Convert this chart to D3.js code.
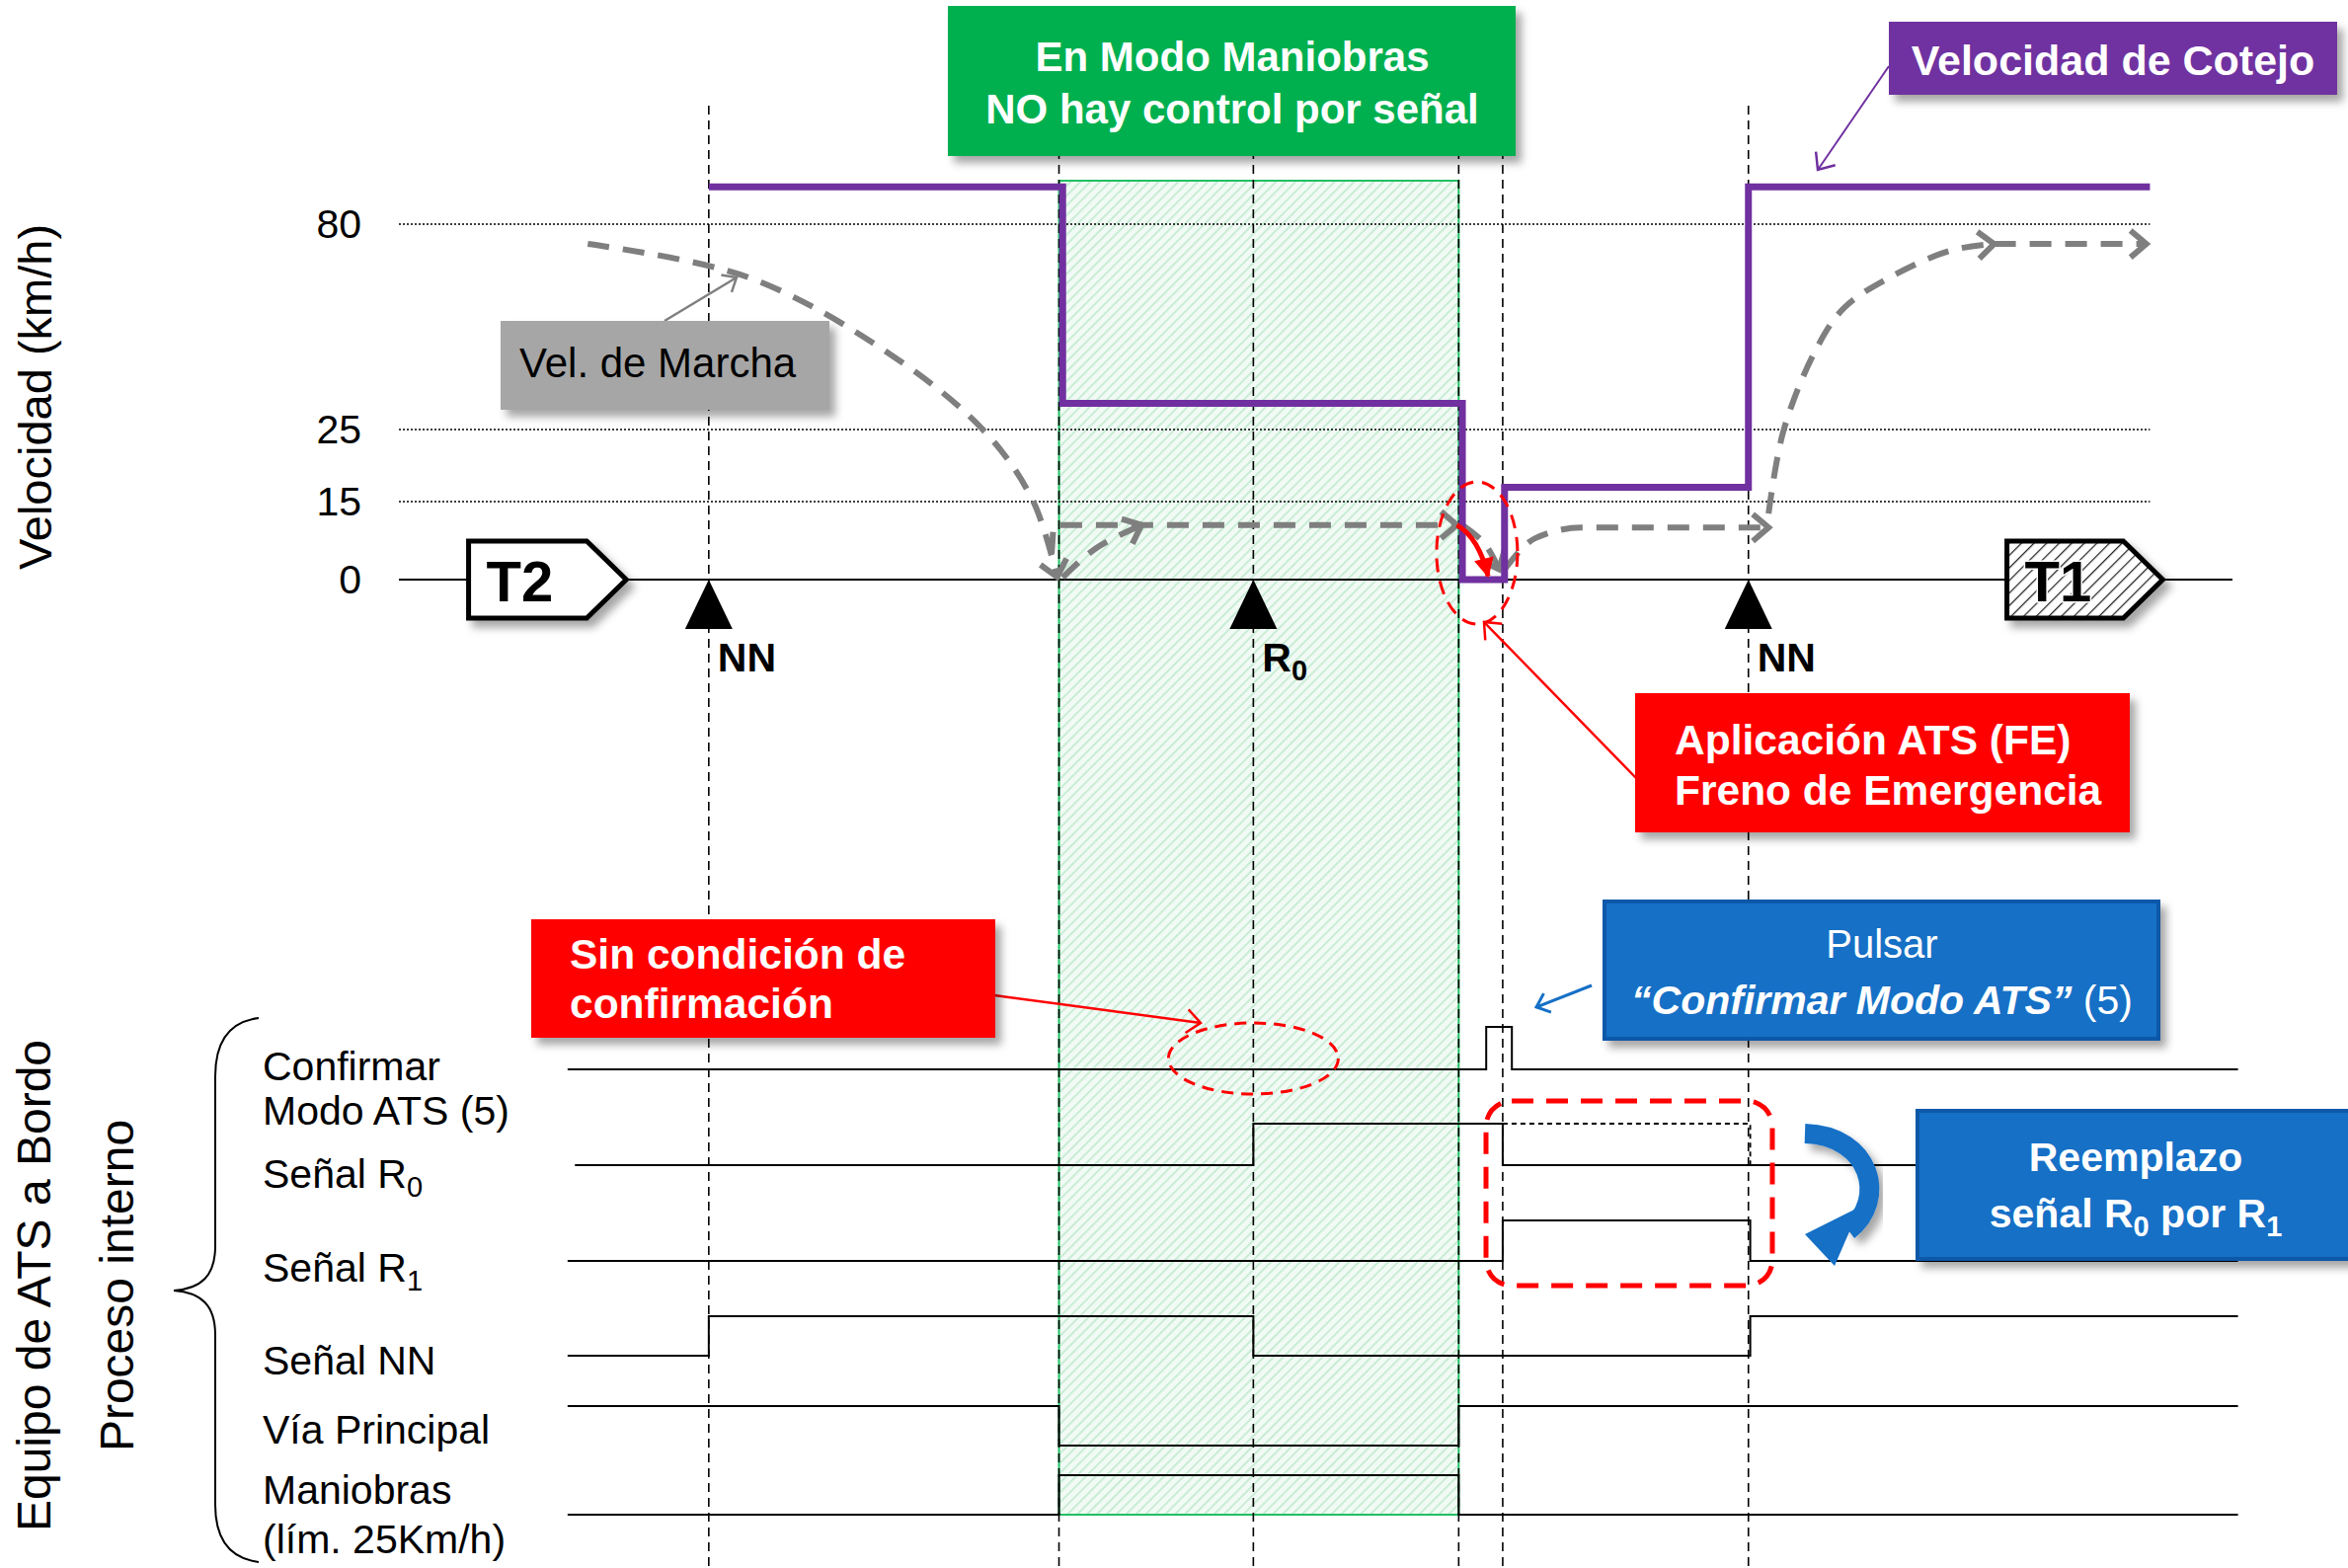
<!DOCTYPE html>
<html>
<head>
<meta charset="utf-8">
<script src="https://cdn.jsdelivr.net/npm/d3@7"></script>
<style>
  body { margin: 0; background: #fff; }
  svg { display: block; }
  text { font-family: "Liberation Sans", Arial, sans-serif; }
</style>
</head>
<body>
<div id="chart"></div>
<script>
// ---- datos (posición en la vía en unidades 0..1000, velocidad en km/h) ----
const speedTicks = [0, 15, 25, 80];
const trackMarkers = [
  { label: "NN", sub: "", pos: 169 },
  { label: "R", sub: "0", pos: 466 },
  { label: "NN", sub: "", pos: 736 }
];
const eventLines = [169, 360, 466, 578, 602, 736];
const maniobrasZone = [360, 578];
// Velocidad de Cotejo (escalones)
const cotejoSpeed = [[169, 90], [362, 32], [580, 0], [603, 17], [736, 90], [955, 90]];
// Velocidad de Marcha (trazos grises)
const marchaBrake = [[103, 74.7], [191, 65.7], [272, 43.8], [321, 24.3], [346, 15], [359, 0.5]];
const marchaStart = [[362, 0.4], [380, 6], [405, 10.5]];
const marchaShunt = [[356, 5], [357, 10.5], [577, 10.5]];
const marchaStop = [[580, 10.5], [592, 7], [600, 2]];
const marchaRestart = [[603, 2], [620, 8], [645, 10], [747, 10]];
const marchaAccel = [[747, 12.7], [755, 24.7], [772, 45.6], [788, 57.5], [813, 65.7], [846, 72.9], [870, 74.7]];
const marchaCruise = [[870, 74.7], [953, 74.7]];
// señales del proceso interno (0 = bajo, 1 = alto)
const signalLabels = [["Confirmar", "Modo ATS (5)"], ["Señal R|0"], ["Señal R|1"], ["Señal NN"], ["Vía Principal"], ["Maniobras", "(lím. 25Km/h)"]];
const confirmarSteps = [[92, 0], [593, 1], [607, 0], [1003, 0]];
const senalR0Steps = [[96, 0], [466, 1], [602, 0], [829, 0]];
const senalR0Ghost = [[602, 1], [737, 1], [737, 0]];
const senalR1Steps = [[92, 0], [602, 1], [737, 0], [1003, 0]];
const senalNNSteps = [[92, 0], [169, 1], [466, 0], [737, 1], [1003, 1]];
const viaPrincipalSteps = [[92, 1], [360, 0], [578, 1], [1003, 1]];
const maniobrasSteps = [[92, 0], [360, 1], [578, 0], [1003, 0]];
const signalSteps = [confirmarSteps, senalR0Steps, senalR1Steps, senalNNSteps, viaPrincipalSteps, maniobrasSteps];

const W = 2378, H = 1588;
const CAL = 'Lato, "Open Sans", sans-serif';
const PURPLE = "#7030a0", GREEN = "#00b050", RED = "#ff0000", BLUE = "#1570c6", GRAY = "#7f7f7f";

const svg = d3.select("#chart").append("svg").attr("width", W).attr("height", H);
const defs = svg.append("defs");

// sombra
const sh = defs.append("filter").attr("id", "shadow").attr("x", "-10%").attr("y", "-20%").attr("width", "130%").attr("height", "150%");
sh.append("feDropShadow").attr("dx", 6).attr("dy", 7).attr("stdDeviation", 4).attr("flood-color", "#000").attr("flood-opacity", 0.35);

// rayado verde
const pat = defs.append("pattern").attr("id", "greenHatch").attr("patternUnits", "userSpaceOnUse")
  .attr("width", 7).attr("height", 7).attr("patternTransform", "rotate(45)");
pat.append("rect").attr("width", 7).attr("height", 7).attr("fill", "#f1faf4");
pat.append("line").attr("x1", 0).attr("y1", 0).attr("x2", 0).attr("y2", 7).attr("stroke", "#c4ebd2").attr("stroke-width", 3.5);

// rayado negro (T1)
const pat2 = defs.append("pattern").attr("id", "blackHatch").attr("patternUnits", "userSpaceOnUse")
  .attr("width", 9).attr("height", 9).attr("patternTransform", "rotate(45)");
pat2.append("rect").attr("width", 9).attr("height", 9).attr("fill", "#fff");
pat2.append("line").attr("x1", 0).attr("y1", 0).attr("x2", 0).attr("y2", 9).attr("stroke", "#222").attr("stroke-width", 2.5);

// marcadores de flecha
function openMarker(id, color, size, width) {
  defs.append("marker").attr("id", id).attr("markerUnits", "userSpaceOnUse")
    .attr("viewBox", "-30 -30 60 60").attr("markerWidth", 60).attr("markerHeight", 60)
    .attr("refX", 0).attr("refY", 0).attr("orient", "auto")
    .append("path").attr("d", `M${-size},${-size * 0.85}L0,0L${-size},${size * 0.85}`)
    .attr("fill", "none").attr("stroke", color).attr("stroke-width", width)
    .attr("stroke-linejoin", "miter");
}
openMarker("arrGray", GRAY, 16, 6);
openMarker("arrRed", RED, 14, 2.5);
openMarker("arrPurple", PURPLE, 14, 2.5);
openMarker("arrGrayThin", GRAY, 12, 2.5);
openMarker("arrBlue", BLUE, 12, 3);
defs.append("marker").attr("id", "arrRedFill").attr("markerUnits", "userSpaceOnUse")
  .attr("viewBox", "-30 -30 60 60").attr("markerWidth", 60).attr("markerHeight", 60)
  .attr("orient", "auto")
  .append("path").attr("d", "M-18,-10L2,0L-18,10Z").attr("fill", RED);

// escalas
const x = d3.scaleLinear().domain([0, 1000]).range([404, 2261]);
const y = d3.scaleLinear().domain(speedTicks).range([587, 508, 435, 227]);
const rowLevels = [[1083, 1040], [1180, 1138], [1277, 1236], [1373, 1333], [1464, 1424], [1534, 1494]];

// zona de maniobras sombreada
svg.append("rect")
  .attr("x", x(maniobrasZone[0])).attr("y", 183)
  .attr("width", x(maniobrasZone[1]) - x(maniobrasZone[0])).attr("height", 1534 - 183)
  .attr("fill", "url(#greenHatch)").attr("stroke", "#22c064").attr("stroke-width", 2);

// rejilla punteada
svg.append("g").selectAll("line").data(speedTicks.filter(d => d > 0)).join("line")
  .attr("x1", x(0)).attr("x2", x(955))
  .attr("y1", d => y(d)).attr("y2", d => y(d))
  .attr("stroke", "#000").attr("stroke-width", 1.6).attr("stroke-dasharray", "2,2");

// eje 0
svg.append("line").attr("x1", x(0)).attr("x2", x(1000)).attr("y1", y(0)).attr("y2", y(0))
  .attr("stroke", "#000").attr("stroke-width", 2);

// verticales discontinuas
svg.append("g").selectAll("line").data(eventLines).join("line")
  .attr("x1", d => x(d)).attr("x2", d => x(d)).attr("y1", 107).attr("y2", H)
  .attr("stroke", "#000").attr("stroke-width", 1.6).attr("stroke-dasharray", "9,6");

// ticks del eje de velocidad
svg.append("g").selectAll("text").data(speedTicks).join("text")
  .attr("x", 366).attr("y", d => y(d) + 14).attr("text-anchor", "end")
  .attr("font-size", 41).attr("fill", "#000").text(d => d);

svg.append("text").attr("transform", "translate(40,402) rotate(-90)").attr("text-anchor", "middle")
  .attr("font-size", 47).attr("dominant-baseline", "middle").text("Velocidad (km/h)");

// tableros T2 / T1
function board(x0, x1, label, fill) {
  const g = svg.append("g").attr("filter", "url(#shadow)");
  const yc = y(0), hh = 39;
  g.append("path")
    .attr("d", `M${x0},${yc - hh}L${x1 - 40},${yc - hh}L${x1},${yc}L${x1 - 40},${yc + hh}L${x0},${yc + hh}Z`)
    .attr("fill", fill).attr("stroke", "#000").attr("stroke-width", 5).attr("stroke-linejoin", "miter");
  svg.append("text").attr("x", x0 + 18).attr("y", yc + 22).attr("font-size", 58).attr("font-weight", "bold")
    .attr("fill", "#000").attr("stroke", "#fff").attr("stroke-width", 3).attr("paint-order", "stroke").text(label);
}
board(x(38), x(124), "T2", "#fff");
board(x(877), x(962), "T1", "url(#blackHatch)");

// triángulos de señal
const mk = svg.append("g").selectAll("g").data(trackMarkers).join("g")
  .attr("transform", d => `translate(${x(d.pos)},${y(0)})`);
mk.append("path").attr("d", "M0,0L24,50L-24,50Z").attr("fill", "#000");
const mkText = mk.append("text").attr("x", 9).attr("y", 93).attr("font-size", 41).attr("font-weight", "bold");
mkText.append("tspan").text(d => d.label);
mkText.append("tspan").attr("dy", 9).attr("font-size", 29).text(d => d.sub);

// Velocidad de Marcha (gris discontinua)
const smooth = d3.line().x(d => x(d[0])).y(d => y(d[1])).curve(d3.curveMonotoneX);
const crv = d3.line().x(d => x(d[0])).y(d => y(d[1])).curve(d3.curveCatmullRom);
const straight = d3.line().x(d => x(d[0])).y(d => y(d[1]));
const grayPaths = [
  [crv(marchaBrake)], [crv(marchaStart)], [straight(marchaShunt)], [crv(marchaStop)],
  [smooth(marchaRestart)], [crv(marchaAccel)], [straight(marchaCruise)]
];
svg.append("g").selectAll("path").data(grayPaths).join("path")
  .attr("d", d => d[0]).attr("fill", "none").attr("stroke", GRAY).attr("stroke-width", 6)
  .attr("stroke-dasharray", "22,14").attr("marker-end", "url(#arrGray)");

// Velocidad de Cotejo (morado)
svg.append("path")
  .attr("d", d3.line().x(d => x(d[0])).y(d => y(d[1])).curve(d3.curveStepAfter)(cotejoSpeed))
  .attr("fill", "none").attr("stroke", PURPLE).attr("stroke-width", 7).attr("stroke-linejoin", "miter");

// frenado de emergencia: flecha roja curva y elipse
svg.append("path").attr("d", `M${x(577)},${y(10.5)} Q${x(589)},${y(8)} ${x(594)},${y(0.7)}`)
  .attr("fill", "none").attr("stroke", RED).attr("stroke-width", 5).attr("marker-end", "url(#arrRedFill)");
svg.append("ellipse").attr("cx", x(588)).attr("cy", 560).attr("rx", 41).attr("ry", 72)
  .attr("fill", "none").attr("stroke", RED).attr("stroke-width", 3).attr("stroke-dasharray", "14,9");

// ---- proceso interno ----
const sig = d3.line().x(d => d[0]).y(d => d[1]);
signalSteps.forEach((steps, i) => {
  const ys = d3.scaleLinear().domain([0, 1]).range(rowLevels[i]);
  const pts = [];
  steps.forEach((s, j) => {
    if (j > 0) pts.push([x(s[0]), ys(steps[j - 1][1])]);
    pts.push([x(s[0]), ys(s[1])]);
  });
  svg.append("path").attr("d", sig(pts)).attr("fill", "none").attr("stroke", "#000").attr("stroke-width", 2);
});
{
  const ys = d3.scaleLinear().domain([0, 1]).range(rowLevels[1]);
  svg.append("path").attr("d", sig(senalR0Ghost.map(d => [x(d[0]), ys(d[1])])))
    .attr("fill", "none").attr("stroke", "#000").attr("stroke-width", 1.8).attr("stroke-dasharray", "5,4");
}

// etiquetas de señales
const labelBase = [[1094, 1139], [1203], [1298], [1392], [1462], [1523, 1573]];
signalLabels.forEach((lines, i) => {
  lines.forEach((ln, k) => {
    const t = svg.append("text").attr("x", 266).attr("y", labelBase[i][k]).attr("font-size", 41);
    const parts = ln.split("|");
    t.append("tspan").text(parts[0]);
    if (parts[1]) t.append("tspan").attr("dy", 9).attr("font-size", 29).text(parts[1]);
  });
});

// llave
svg.append("path")
  .attr("d", "M262,1031 C230,1035 218,1058 218,1090 L218,1262 C218,1292 204,1305 176,1307 C204,1309 218,1322 218,1352 L218,1524 C218,1556 230,1578 262,1582")
  .attr("fill", "none").attr("stroke", "#000").attr("stroke-width", 2);
svg.append("text").attr("transform", "translate(38,1302) rotate(-90)").attr("text-anchor", "middle")
  .attr("dominant-baseline", "middle").attr("font-size", 48).text("Equipo de ATS a Bordo");
svg.append("text").attr("transform", "translate(122,1302) rotate(-90)").attr("text-anchor", "middle")
  .attr("dominant-baseline", "middle").attr("font-size", 48).text("Proceso interno");

// elipse "sin condición"
svg.append("ellipse").attr("cx", x(466)).attr("cy", 1072).attr("rx", 86).attr("ry", 36)
  .attr("fill", "none").attr("stroke", RED).attr("stroke-width", 3).attr("stroke-dasharray", "12,8");
// rectángulo redondeado de reemplazo
svg.append("rect").attr("x", 1505).attr("y", 1115).attr("width", 290).attr("height", 187).attr("rx", 26)
  .attr("fill", "none").attr("stroke", RED).attr("stroke-width", 5).attr("stroke-dasharray", "22,13");

// flecha azul curva
svg.append("path").attr("d", "M1828,1148 C1895,1150 1912,1215 1872,1246")
  .attr("fill", "none").attr("stroke", BLUE).attr("stroke-width", 20).attr("filter", "url(#shadow)");
svg.append("path").attr("d", "M1884,1222 L1858,1282 L1828,1250 Z").attr("fill", BLUE);

// ---- cuadros de texto ----
function box(x0, y0, w, h, fill, stroke) {
  svg.append("rect").attr("x", x0).attr("y", y0).attr("width", w).attr("height", h)
    .attr("fill", fill).attr("stroke", stroke || "none").attr("stroke-width", stroke ? 4 : 0)
    .attr("filter", "url(#shadow)");
}
function pointer(x1, y1, x2, y2, color, marker, w) {
  svg.append("line").attr("x1", x1).attr("y1", y1).attr("x2", x2).attr("y2", y2)
    .attr("stroke", color).attr("stroke-width", w || 2.5).attr("marker-end", `url(#${marker})`);
}

// En Modo Maniobras
box(960, 6, 575, 152, GREEN);
svg.append("text").attr("x", 1248).attr("y", 72).attr("text-anchor", "middle").attr("font-size", 42)
  .attr("font-weight", "bold").attr("fill", "#fff").text("En Modo Maniobras");
svg.append("text").attr("x", 1248).attr("y", 125).attr("text-anchor", "middle").attr("font-size", 42)
  .attr("font-weight", "bold").attr("fill", "#fff").text("NO hay control por señal");

// Velocidad de Cotejo
pointer(1913, 67, 1841, 172, PURPLE, "arrPurple", 2);
box(1913, 22, 454, 74, PURPLE);
svg.append("text").attr("x", 2140).attr("y", 76).attr("text-anchor", "middle").attr("font-size", 43)
  .attr("font-weight", "bold").attr("fill", "#fff").text("Velocidad de Cotejo");

// Vel. de Marcha
pointer(673, 325, 746, 281, GRAY, "arrGrayThin", 2.5);
box(507, 325, 333, 90, "#a6a6a6");
svg.append("text").attr("x", 526).attr("y", 382).attr("font-size", 42).attr("fill", "#000").text("Vel. de Marcha");

// Aplicación ATS (FE)
pointer(1658, 789, 1503, 630, RED, "arrRed", 2.5);
box(1656, 702, 501, 141, RED);
svg.append("text").attr("x", 1696).attr("y", 764).attr("font-size", 42.5).attr("font-weight", "bold")
  .attr("fill", "#fff").text("Aplicación ATS (FE)");
svg.append("text").attr("x", 1696).attr("y", 815).attr("font-size", 42.5).attr("font-weight", "bold")
  .attr("fill", "#fff").text("Freno de Emergencia");

// Sin condición de confirmación
pointer(1000, 1007, 1216, 1036, RED, "arrRed", 2.5);
box(538, 931, 470, 120, RED);
svg.append("text").attr("x", 577).attr("y", 981).attr("font-size", 42.5).attr("font-weight", "bold")
  .attr("fill", "#fff").text("Sin condición de");
svg.append("text").attr("x", 577).attr("y", 1031).attr("font-size", 42.5).attr("font-weight", "bold")
  .attr("fill", "#fff").text("confirmación");

// Pulsar "Confirmar Modo ATS" (5)
pointer(1612, 998, 1556, 1020, BLUE, "arrBlue", 3);
box(1625, 913, 561, 139, BLUE, "#1059a8");
svg.append("text").attr("x", 1906).attr("y", 970).attr("text-anchor", "middle").attr("font-size", 40)
  .attr("font-family", CAL).attr("fill", "#fff").text("Pulsar");
const pt = svg.append("text").attr("x", 1906).attr("y", 1027).attr("text-anchor", "middle").attr("font-size", 41)
  .attr("font-family", CAL).attr("fill", "#fff");
pt.append("tspan").attr("font-style", "italic").attr("font-weight", "bold").text("“Confirmar Modo ATS”");
pt.append("tspan").text(" (5)");

// Reemplazo señal R0 por R1
box(1942, 1125, 450, 150, BLUE, "#1059a8");
svg.append("text").attr("x", 2163).attr("y", 1186).attr("text-anchor", "middle").attr("font-size", 41)
  .attr("font-family", CAL).attr("font-weight", "bold").attr("fill", "#fff").text("Reemplazo");
const rt = svg.append("text").attr("x", 2163).attr("y", 1243).attr("text-anchor", "middle").attr("font-size", 41)
  .attr("font-family", CAL).attr("font-weight", "bold").attr("fill", "#fff");
rt.append("tspan").text("señal R");
rt.append("tspan").attr("dy", 9).attr("font-size", 29).text("0");
rt.append("tspan").attr("dy", -9).text(" por R");
rt.append("tspan").attr("dy", 9).attr("font-size", 29).text("1");
</script>
</body>
</html>
